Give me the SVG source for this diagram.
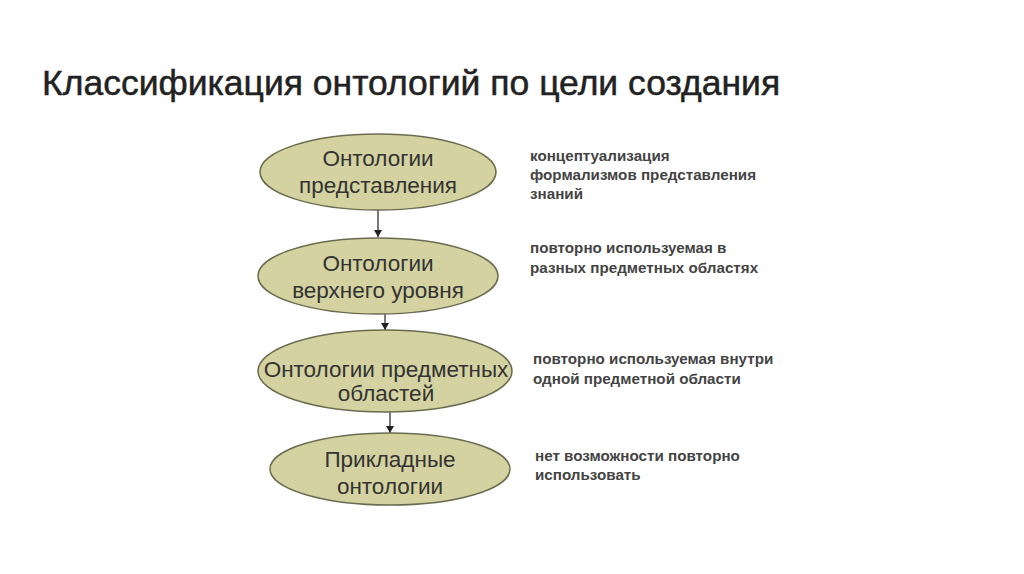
<svg xmlns="http://www.w3.org/2000/svg" width="1024" height="574" viewBox="0 0 1024 574">
<style>
.n ellipse{fill:#d3d2a0;stroke:#6b6b50;stroke-width:1.5}
.n text{font-family:"Liberation Sans",Arial,sans-serif;font-size:22.5px;fill:#333;text-anchor:middle}
.d{font-family:"Liberation Sans",Arial,sans-serif;font-size:15.2px;font-weight:bold;fill:#444}
.c line{stroke:#222;stroke-width:1.2;marker-end:url(#a)}
</style>
<defs><marker id="a" markerWidth="8" markerHeight="8" refX="7" refY="4" orient="auto" markerUnits="userSpaceOnUse"><path d="M0,0 L7,4 L0,8 Z" fill="#222"/></marker></defs>
<rect width="1024" height="574" fill="#fff"/>
<text x="42" y="95" font-family="Liberation Sans,Arial,sans-serif" font-size="35.5" fill="#222" stroke="#222" stroke-width="0.5">Классификация онтологий по цели создания</text>
<g class="c">
<line x1="378" y1="210" x2="378" y2="237"/>
<line x1="385" y1="314" x2="385" y2="330"/>
<line x1="390" y1="412" x2="390" y2="433"/>
</g>
<g id="n1" class="n"><ellipse cx="378" cy="172" rx="118" ry="38"/><text x="378" y="166">Онтологии</text><text x="378" y="193">представления</text></g>
<g id="n2" class="n"><ellipse cx="378" cy="276" rx="120" ry="38"/><text x="378" y="271">Онтологии</text><text x="378" y="298">верхнего уровня</text></g>
<g id="n3" class="n"><ellipse cx="385" cy="371" rx="127" ry="41"/><text x="386" y="377">Онтологии предметных</text><text x="386" y="401">областей</text></g>
<g id="n4" class="n"><ellipse cx="390" cy="469" rx="120" ry="36"/><text x="390" y="467">Прикладные</text><text x="390" y="494">онтологии</text></g>
<g id="t1"><text class="d" x="530" y="161">концептуализация</text><text class="d" x="530" y="180">формализмов представления</text><text class="d" x="530" y="199">знаний</text></g>
<g id="t2"><text class="d" x="530" y="253">повторно используемая в</text><text class="d" x="530" y="273">разных предметных областях</text></g>
<g id="t3"><text class="d" x="533" y="364">повторно используемая внутри</text><text class="d" x="533" y="384">одной предметной области</text></g>
<g id="t4"><text class="d" x="535" y="461">нет возможности повторно</text><text class="d" x="535" y="480">использовать</text></g>
</svg>
